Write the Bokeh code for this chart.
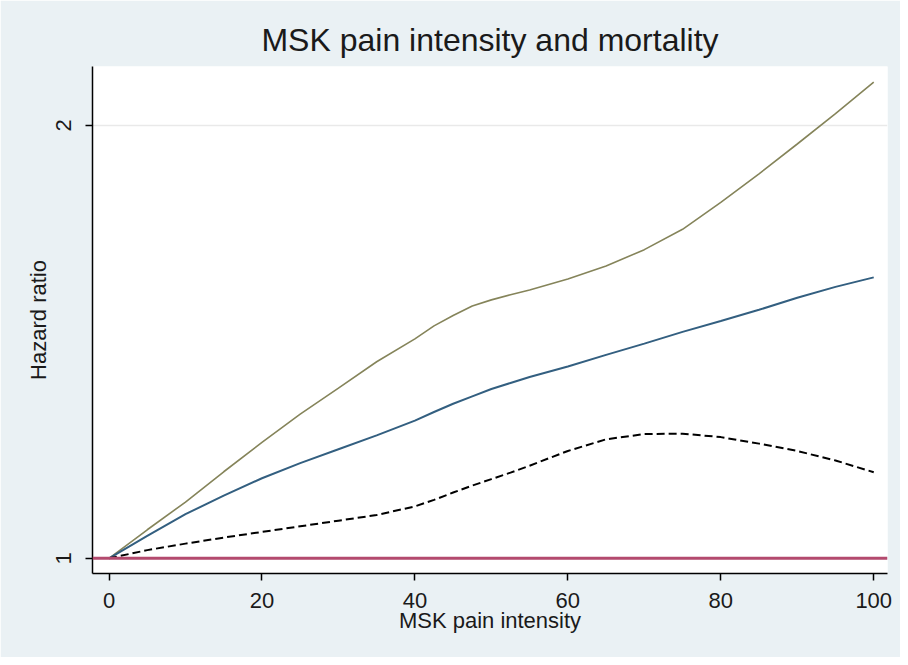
from bokeh.plotting import figure
from bokeh.models import Range1d, FixedTicker, Span, ColumnDataSource
from bokeh.embed import file_html
from bokeh.resources import INLINE

# Data
pain = [0, 5, 10, 15, 20, 25, 30, 35, 40, 42.5, 45, 47.5, 50, 52.5, 55, 60, 65, 70, 75, 80, 85, 90, 95, 100]
hr_upper = [1.000, 1.066, 1.130, 1.200, 1.268, 1.333, 1.393, 1.454, 1.507, 1.537, 1.561, 1.583,
            1.597, 1.609, 1.620, 1.645, 1.675, 1.713, 1.760, 1.822, 1.888, 1.957, 2.027, 2.100]
hr_est = [1.000, 1.052, 1.102, 1.145, 1.185, 1.220, 1.252, 1.284, 1.318, 1.338, 1.357, 1.374,
          1.391, 1.405, 1.419, 1.443, 1.470, 1.496, 1.523, 1.548, 1.574, 1.602, 1.627, 1.649]
hr_lower = [1.000, 1.019, 1.034, 1.048, 1.061, 1.074, 1.087, 1.100, 1.120, 1.135, 1.152, 1.168,
            1.183, 1.198, 1.214, 1.248, 1.275, 1.287, 1.288, 1.280, 1.265, 1.248, 1.226, 1.199]
x_ticks = [0, 20, 40, 60, 80, 100]
y_ticks = [1, 2]
reference_hr = 1

src = ColumnDataSource(dict(x=pain, up=hr_upper, est=hr_est, lo=hr_lower))

BG = "#EAF1F4"
FONT = "Liberation Sans"
TXT = "#1a1a1a"

p = figure(width=900, height=657, output_backend="svg", toolbar_location=None,
           x_range=Range1d(-2.16, 101.8), y_range=Range1d(0.965, 2.136),
           title="MSK pain intensity and mortality",
           min_border_left=92, min_border_right=13, min_border_top=66, min_border_bottom=84)

p.background_fill_color = "white"
p.border_fill_color = BG
p.outline_line_color = None

p.title.align = "center"
p.title.text_font = FONT
p.title.text_font_size = "32px"
p.title.text_font_style = "normal"
p.title.text_color = TXT
p.title.standoff = 18

# axes
p.xaxis.ticker = FixedTicker(ticks=x_ticks)
p.yaxis.ticker = FixedTicker(ticks=y_ticks)
p.xaxis.axis_label = "MSK pain intensity"
p.yaxis.axis_label = "Hazard ratio"
for ax in (p.xaxis, p.yaxis):
    ax.axis_line_color = "black"
    ax.axis_line_width = 1.5
    ax.major_tick_line_color = "black"
    ax.major_tick_line_width = 1.5
    ax.major_tick_out = 7
    ax.major_tick_in = 0
    ax.minor_tick_line_color = None
    ax.major_label_text_font = FONT
    ax.major_label_text_font_size = "22px"
    ax.major_label_text_color = TXT
    ax.axis_label_text_font = FONT
    ax.axis_label_text_font_size = "22px"
    ax.axis_label_text_font_style = "normal"
    ax.axis_label_text_color = TXT

p.xaxis.major_label_standoff = 12
p.xaxis.axis_label_standoff = -3
p.yaxis.major_label_orientation = "vertical"
p.yaxis.major_label_standoff = 14
p.yaxis.axis_label_standoff = 3

p.xgrid.grid_line_color = None
p.ygrid.grid_line_color = "#e9e9e9"
p.ygrid.grid_line_width = 1.5

# reference line at HR = 1
p.add_layout(Span(location=reference_hr, dimension="width", line_color="#B34A6E", line_width=3))

p.line("x", "up", source=src, line_color="#85845A", line_width=1.6)
p.line("x", "est", source=src, line_color="#335F80", line_width=2)
p.line("x", "lo", source=src, line_color="black", line_width=2, line_dash="8 4")

open("out.html", "w").write(file_html(p, INLINE))
